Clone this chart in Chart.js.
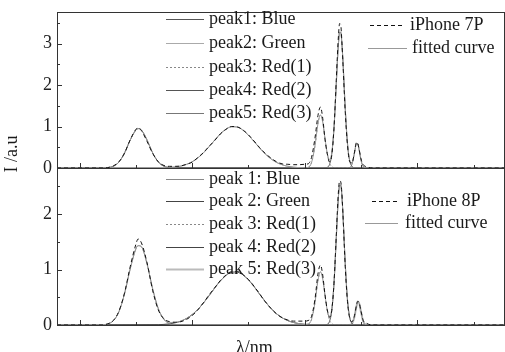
<!DOCTYPE html>
<html>
<head>
<meta charset="utf-8">
<script src="https://cdn.jsdelivr.net/npm/chart.js@4.4.0/dist/chart.umd.min.js"></script>
<style>
body{margin:0;background:#fff;}
#wrap{position:relative;width:505px;height:352px;overflow:hidden;}
canvas{position:absolute;left:0;}
#top{top:0;}
#bottom{top:160px;}
</style>
</head>
<body>
<div id="wrap">
<canvas id="top" width="505" height="180"></canvas>
<canvas id="bottom" width="505" height="192"></canvas>
</div>
<script>
// wavelength grid for measured spectra and fitted curves
const wl = [380,420,425,430,435,440,445,450,452,455,460,465,470,475,480,485,490,495,500,505,510,515,520,525,530,535,540,545,550,555,560,565,570,575,580,585,590,595,600,603,606,609,612,614,616,618,620,622,624,626,628,629,630,631,632,633,634,636,638,640,642,644,646,647,648,650,652,655,660,700,780];

// iPhone 7P
const meas7 = [0,0,0.01,0.05,0.15,0.36,0.68,0.93,0.97,0.9,0.64,0.35,0.15,0.06,0.04,0.04,0.05,0.09,0.14,0.25,0.37,0.52,0.66,0.82,0.93,1.0,0.99,0.92,0.8,0.65,0.49,0.35,0.24,0.15,0.1,0.09,0.08,0.08,0.09,0.1,0.25,0.7,1.3,1.47,1.2,0.7,0.35,0.15,0.3,0.95,2.1,2.7,3.2,3.48,3.45,3.05,2.5,1.35,0.55,0.15,0.12,0.35,0.62,0.6,0.5,0.22,0.08,0.03,0,0,0];
const fit7 = [0,0,0.009,0.042,0.143,0.362,0.672,0.914,0.95,0.914,0.672,0.362,0.145,0.047,0.02,0.025,0.047,0.087,0.15,0.242,0.364,0.512,0.67,0.819,0.934,0.994,0.988,0.915,0.791,0.638,0.481,0.338,0.221,0.135,0.077,0.041,0.02,0.009,0.005,0.017,0.125,0.514,1.106,1.28,1.106,0.716,0.359,0.207,0.363,0.967,2.0,2.56,3.01,3.27,3.27,3.01,2.56,1.44,0.59,0.18,0.13,0.335,0.586,0.586,0.485,0.19,0.035,0,0,0,0];

// iPhone 8P
const meas8 = [0,0,0.02,0.08,0.25,0.58,1.05,1.45,1.55,1.48,1.12,0.62,0.27,0.11,0.06,0.05,0.06,0.1,0.17,0.27,0.4,0.54,0.67,0.8,0.9,0.96,0.96,0.91,0.82,0.7,0.56,0.42,0.3,0.2,0.13,0.09,0.07,0.07,0.07,0.08,0.15,0.45,0.95,1.08,0.9,0.55,0.28,0.14,0.26,0.75,1.6,2.05,2.42,2.6,2.58,2.38,1.98,1.05,0.42,0.12,0.06,0.15,0.36,0.43,0.42,0.25,0.08,0.03,0,0,0];
const fit8 = [0,0.003,0.019,0.077,0.239,0.565,1.01,1.37,1.43,1.41,1.1,0.648,0.295,0.109,0.046,0.045,0.07,0.118,0.187,0.279,0.395,0.527,0.665,0.793,0.893,0.95,0.955,0.908,0.815,0.692,0.555,0.42,0.3,0.203,0.13,0.079,0.045,0.024,0.012,0.02,0.098,0.389,0.829,0.96,0.829,0.538,0.269,0.157,0.28,0.747,1.55,1.98,2.33,2.52,2.52,2.33,1.98,1.11,0.454,0.135,0.052,0.137,0.34,0.41,0.41,0.233,0.062,0.002,0,0,0];

// peak components (own wavelength ranges)
const p1x = [380,420,425,430,435,440,445,450,452,455,460,465,470,475,480,485,780];
const p1y7 = [0,0,0.009,0.042,0.143,0.362,0.672,0.914,0.95,0.914,0.672,0.362,0.143,0.042,0.009,0.001,0];
const p1y8 = [0,0.003,0.019,0.077,0.239,0.565,1.01,1.37,1.43,1.41,1.1,0.648,0.29,0.098,0.025,0.005,0];

const p2x = [380,470,475,480,485,490,495,500,505,510,515,520,525,530,535,540,545,550,555,560,565,570,575,580,585,590,595,600,605,610,780];
const p2y7 = [0,0.002,0.005,0.011,0.024,0.047,0.087,0.15,0.242,0.364,0.512,0.67,0.819,0.934,0.994,0.988,0.915,0.791,0.638,0.481,0.338,0.221,0.135,0.077,0.041,0.02,0.009,0.004,0.002,0.001,0];
const p2y8 = [0,0.005,0.011,0.021,0.04,0.07,0.118,0.187,0.279,0.395,0.527,0.665,0.793,0.893,0.95,0.955,0.908,0.815,0.692,0.555,0.42,0.3,0.203,0.13,0.079,0.045,0.024,0.012,0.006,0.003,0];

const p3x = [380,600,603,606,609,612,614,616,618,620,622,624,626,628,780];
const p3y7 = [0,0.001,0.015,0.124,0.514,1.106,1.28,1.106,0.714,0.344,0.124,0.033,0.007,0.001,0];
const p3y8 = [0,0,0.012,0.093,0.386,0.829,0.96,0.829,0.536,0.258,0.093,0.025,0.005,0.001,0];

const p4x = [380,616,618,620,622,624,626,628,629,630,631,632,633,634,636,638,640,642,644,780];
const p4y7 = [0,0,0.002,0.015,0.083,0.33,0.96,2.0,2.56,3.01,3.27,3.27,3.01,2.56,1.44,0.59,0.17,0.04,0.005,0];
const p4y8 = [0,0,0.002,0.011,0.064,0.255,0.742,1.55,1.98,2.33,2.52,2.52,2.33,1.98,1.11,0.454,0.133,0.028,0.005,0];

const p5x = [380,638,640,642,644,646,647,648,650,652,655,780];
const p5y7 = [0,0.001,0.011,0.089,0.33,0.586,0.586,0.485,0.189,0.035,0,0];
const p5y8 = [0,0,0.002,0.024,0.132,0.34,0.41,0.41,0.233,0.062,0.002,0];

const peakNames7 = ['peak1: Blue','peak2: Green','peak3: Red(1)','peak4: Red(2)','peak5: Red(3)'];
const peakNames8 = ['peak 1: Blue','peak 2: Green','peak 3: Red(1)','peak 4: Red(2)','peak 5: Red(3)'];
const xTicks = [400,500,600,700];

const FONT = 'Liberation Serif';

function pts(xs, ys){ return xs.map((v,i)=>({x:v, y:ys[i]})); }

function line(label, xs, ys, color, dash, width){
  return {label:label, data:pts(xs,ys), borderColor:color, borderDash:dash||[], borderWidth:width||1,
    pointRadius:0, fill:false, cubicInterpolationMode:'monotone', clip:3};
}

// frame + inward ticks
const frameTicks = {
  id:'frameTicks',
  afterDraw(chart){
    const ctx = chart.ctx, a = chart.chartArea, x = chart.scales.x, y = chart.scales.y;
    ctx.save();
    ctx.strokeStyle = '#333'; ctx.lineWidth = 1;
    ctx.strokeRect(a.left+0.5, a.top+0.5, a.right-a.left, a.bottom-a.top);
    ctx.beginPath();
    for(let v=400; v<=750; v+=50){
      const px = Math.round(x.getPixelForValue(v))+0.5, len = v%100===0?5:3;
      ctx.moveTo(px, a.bottom); ctx.lineTo(px, a.bottom-len);
    }
    for(let v=0.5; v<y.max; v+=0.5){
      const py = Math.round(y.getPixelForValue(v))+0.5, len = v%1===0?5:3;
      ctx.moveTo(a.left, py); ctx.lineTo(a.left+len, py);
    }
    ctx.stroke();
    ctx.restore();
  }
};

// legends and axis titles
const panelText = {
  id:'panelText',
  afterDraw(chart, args, opts){
    const ctx = chart.ctx;
    ctx.save();
    ctx.font = '18px "'+FONT+'"';
    ctx.fillStyle = '#1a1a1a';
    ctx.textBaseline = 'middle';
    (opts.items||[]).forEach(it=>{
      ctx.beginPath();
      ctx.strokeStyle = it.color; ctx.lineWidth = it.width||1;
      ctx.setLineDash(it.dash||[]);
      ctx.moveTo(it.x1, it.y+0.5); ctx.lineTo(it.x2, it.y+0.5);
      ctx.stroke();
      ctx.setLineDash([]);
      ctx.fillText(it.text, it.tx, it.y);
    });
    (opts.titles||[]).forEach(t=>{
      ctx.save();
      ctx.font = '18px "'+FONT+'"';
      ctx.translate(t.x, t.y);
      ctx.rotate(t.rot||0);
      ctx.textAlign = t.align||'left';
      ctx.textBaseline = t.base||'middle';
      ctx.fillText(t.text, 0, 0);
      ctx.restore();
    });
    ctx.restore();
  }
};

function options(ymax, padTop, padBottom, showX, legend){
  return {
    responsive:false, animation:false, devicePixelRatio:1,
    layout:{autoPadding:false, padding:{left:0, right:1, top:padTop, bottom:padBottom}},
    scales:{
      x:{type:'linear', min:380, max:777,
        grid:{display:false, drawTicks:false}, border:{display:false},
        ticks:{display:showX, stepSize:100, autoSkip:false, maxRotation:0, padding:6,
          font:{family:FONT, size:17}, color:'#222',
          callback:v=>xTicks.includes(v)?String(v):null},
        afterFit:s=>{ s.height = showX?27:0; s.paddingLeft = 0; s.paddingRight = 0; }},
      y:{min:0, max:ymax,
        grid:{display:false, drawTicks:false}, border:{display:false},
        ticks:{stepSize:1, includeBounds:false, padding:5,
          font:{family:FONT, size:18}, color:'#222',
          callback:v=>Number.isInteger(v)?String(v):null},
        afterFit:s=>{ s.width = 57; s.paddingTop = 0; s.paddingBottom = 0; }}
    },
    plugins:{legend:{display:false}, tooltip:{enabled:false}, panelText:legend}
  };
}

new Chart(document.getElementById('top'), {
  type:'line',
  data:{datasets:[
    line('iPhone 7P', wl, meas7, '#111', [4,3]),
    line('fitted curve', wl, fit7, '#999'),
    line(peakNames7[0], p1x, p1y7, '#555'),
    line(peakNames7[1], p2x, p2y7, '#aaa'),
    line(peakNames7[2], p3x, p3y7, '#888', [2,2]),
    line(peakNames7[3], p4x, p4y7, '#555'),
    line(peakNames7[4], p5x, p5y7, '#777')
  ]},
  options:options(3.76, 12, 12, false, {
    items:[
      {text:peakNames7[0], x1:166, x2:204, tx:209, y:19, color:'#555'},
      {text:peakNames7[1], x1:166, x2:204, tx:209, y:43, color:'#aaa'},
      {text:peakNames7[2], x1:166, x2:204, tx:209, y:67, color:'#888', dash:[2,2]},
      {text:peakNames7[3], x1:166, x2:204, tx:209, y:90, color:'#555'},
      {text:peakNames7[4], x1:166, x2:204, tx:209, y:113, color:'#777'},
      {text:'iPhone 7P', x1:370, x2:404, tx:410, y:25, color:'#111', dash:[4,3]},
      {text:'fitted curve', x1:368, x2:407, tx:412, y:48, color:'#999'}
    ],
    titles:[{text:'I /a.u', x:12, y:154, rot:-Math.PI/2, align:'center'}]
  }),
  plugins:[frameTicks, panelText]
});

new Chart(document.getElementById('bottom'), {
  type:'line',
  data:{datasets:[
    line('iPhone 8P', wl, meas8, '#111', [4,3]),
    line('fitted curve', wl, fit8, '#999'),
    line(peakNames8[0], p1x, p1y8, '#888'),
    line(peakNames8[1], p2x, p2y8, '#444'),
    line(peakNames8[2], p3x, p3y8, '#888', [2,2]),
    line(peakNames8[3], p4x, p4y8, '#444'),
    line(peakNames8[4], p5x, p5y8, '#bbb', [], 2)
  ]},
  options:options(2.83, 8, 0, true, {
    items:[
      {text:peakNames8[0], x1:166, x2:204, tx:209, y:19, color:'#888'},
      {text:peakNames8[1], x1:166, x2:204, tx:209, y:41, color:'#444'},
      {text:peakNames8[2], x1:166, x2:204, tx:209, y:64, color:'#888', dash:[2,2]},
      {text:peakNames8[3], x1:166, x2:204, tx:209, y:87, color:'#444'},
      {text:peakNames8[4], x1:166, x2:204, tx:209, y:109, color:'#bbb', width:2},
      {text:'iPhone 8P', x1:372, x2:398, tx:407, y:41, color:'#111', dash:[4,3]},
      {text:'fitted curve', x1:365, x2:398, tx:405, y:63, color:'#999'}
    ],
    titles:[{text:'λ/nm', x:236, y:193, base:'alphabetic'}]
  }),
  plugins:[frameTicks, panelText]
});
</script>
</body>
</html>
